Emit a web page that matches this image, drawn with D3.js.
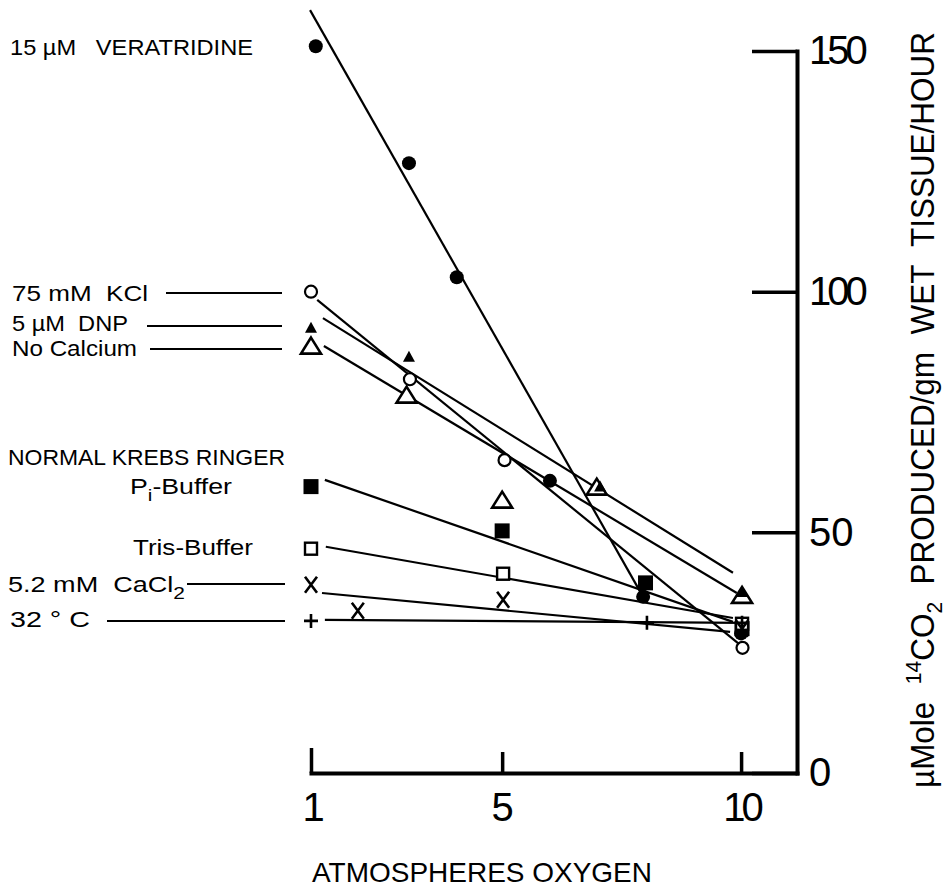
<!DOCTYPE html>
<html>
<head>
<meta charset="utf-8">
<script src="https://cdn.jsdelivr.net/npm/d3@7/dist/d3.min.js"></script>
<style>
  html, body { margin: 0; padding: 0; background: #fff; }
  svg { display: block; font-family: "Liberation Sans", Arial, Helvetica, sans-serif; }
</style>
</head>
<body>
<script>
// ---- data: oxygen pressure (atm) and 14CO2 production per series ----
const veratridineX = [1.1, 3.05, 4.05, 6.0, 7.95, 10];
const veratridineY = [151, 126.7, 103, 60.7, 36.6, 29];
const veratridineFit = [[0.98, 158.5], [7.95, 36.6]];

const kclX = [1, 3.07, 5.05, 10.03];
const kclY = [100, 81.8, 65, 26];
const kclFit = [[1.13, 98.3], [9.98, 26.6]];

const dnpX = [1, 3.05, 7.05, 10.02];
const dnpY = [92.5, 86.5, 59.5, 37.6];
const dnpFit = [[1.25, 94.5], [9.83, 41.6]];

const noCalciumX = [1, 3.0, 5.0, 6.98, 10.02];
const noCalciumY = [88.8, 78.6, 56.8, 59.5, 37];
const noCalciumFit = [[1.27, 88.7], [9.91, 37.4]];

const piBufferX = [1, 5.0, 8.0, 10.02];
const piBufferY = [59.5, 50.3, 39.5, 30];
const piBufferFit = [[1.29, 60.9], [9.83, 31.4]];

const trisBufferX = [1, 5.02, 10.02];
const trisBufferY = [46.6, 41.4, 31];
const trisBufferFit = [[1.31, 47.0], [9.83, 32.2]];

const cacl2X = [1, 1.98, 5.02, 10.02];
const cacl2Y = [39.1, 33.7, 36, 30];
const cacl2Fit = [[1.23, 37.4], [9.77, 29.3]];

const temp32X = [1, 8.03, 10.02];
const temp32Y = [31.6, 31.2, 31.2];
const temp32Fit = [[1.29, 31.8], [10.04, 31.2]];

const xTicks = [1, 5, 10];
const yTicks = [0, 50, 100, 150];

// ---- canvas & scales ----
const W = 950, H = 888;
const svg = d3.select("body").append("svg").attr("width", W).attr("height", H);

const x = d3.scaleLinear().domain([1, 11.17]).range([311, 797]);
const y = d3.scaleLinear().domain([0, 150]).range([773, 51]);

// ---- axes ----
const xAxis = svg.append("g")
  .attr("transform", `translate(0,${y(0)})`)
  .call(d3.axisBottom(x).tickValues(xTicks).tickSizeInner(-21).tickSizeOuter(0).tickPadding(20).tickFormat(d3.format("d")));
xAxis.select(".domain").attr("stroke-width", 4).attr("stroke-linecap", "square");
xAxis.selectAll(".tick line").attr("stroke-width", 3.5)
  .attr("y2", d => d === 1 ? -25 : -21);
xAxis.selectAll(".tick text")
  .attr("font-size", 40).attr("font-family", "Liberation Sans, Arial, sans-serif")
  .attr("fill", "#000")
  .attr("letter-spacing", d => String(d).includes("1") ? -4 : 0);

const yAxis = svg.append("g")
  .attr("transform", `translate(${x(11.17)},0)`)
  .call(d3.axisRight(y).tickValues(yTicks).tickSizeInner(-45).tickSizeOuter(0).tickPadding(12).tickFormat(d3.format("d")));
yAxis.select(".domain").attr("stroke-width", 4).attr("stroke-linecap", "square");
yAxis.selectAll(".tick line").attr("stroke-width", 3.5);
yAxis.selectAll(".tick text")
  .attr("font-size", 40).attr("font-family", "Liberation Sans, Arial, sans-serif")
  .attr("fill", "#000")
  .attr("letter-spacing", d => String(d).includes("1") ? -4 : 0);

// ---- axis titles ----
svg.append("text")
  .attr("x", 312).attr("y", 882)
  .attr("font-size", 28)
  .attr("textLength", 340).attr("lengthAdjust", "spacingAndGlyphs")
  .text("ATMOSPHERES OXYGEN");

const yTitle = svg.append("text")
  .attr("transform", "translate(934,788) rotate(-90)")
  .attr("font-size", 33)
  .attr("textLength", 756).attr("lengthAdjust", "spacingAndGlyphs");
yTitle.append("tspan").text("\u00b5Mole\u00a0\u00a0");
yTitle.append("tspan").attr("font-size", 22).attr("dy", -13).text("14");
yTitle.append("tspan").attr("dy", 13).text("CO");
yTitle.append("tspan").attr("font-size", 22).attr("dy", 8).text("2");
yTitle.append("tspan").attr("dy", -8).text("\u00a0\u00a0PRODUCED/gm\u00a0\u00a0WET\u00a0\u00a0TISSUE/HOUR");

// ---- series labels on the left ----
const labelFont = 22;
function label(parts, x0, base, len) {
  const t = svg.append("text").attr("x", x0).attr("y", base).attr("font-size", labelFont)
    .attr("textLength", len).attr("lengthAdjust", "spacingAndGlyphs");
  parts.forEach(p => {
    const s = t.append("tspan").text(p.t);
    if (p.sub) s.attr("font-size", 17).attr("dy", 7);
    if (p.back) s.attr("dy", -7);
  });
}
label([{t: "15 \u00b5M\u00a0\u00a0 VERATRIDINE"}], 10, 55, 243);
label([{t: "75 mM\u00a0 KCl"}], 12, 301, 136);
label([{t: "5 \u00b5M\u00a0 DNP"}], 12, 331, 116);
label([{t: "No Calcium"}], 12, 356, 125);
label([{t: "NORMAL KREBS RINGER"}], 8, 465, 277);
label([{t: "P"}, {t: "i", sub: true}, {t: "-Buffer", back: true}], 130, 494, 102);
label([{t: "Tris-Buffer"}], 133, 555, 120);
label([{t: "5.2 mM\u00a0\u00a0CaCl"}, {t: "2", sub: true}], 8, 592, 177);
label([{t: "32 \u00b0 C"}], 10, 627, 80);

// leader lines from labels toward the first data column
const leaders = [[166, 282, 293], [147, 282, 326], [150, 282, 349], [187, 285, 584], [107, 285, 621]];
svg.append("g").selectAll("line").data(leaders).join("line")
  .attr("x1", d => d[0]).attr("x2", d => d[1])
  .attr("y1", d => d[2]).attr("y2", d => d[2])
  .attr("stroke", "#000").attr("stroke-width", 2);

// ---- series table ----
const series = [
  {xs: veratridineX, ys: veratridineY, fit: veratridineFit, marker: "dot"},
  {xs: kclX, ys: kclY, fit: kclFit, marker: "ring"},
  {xs: noCalciumX, ys: noCalciumY, fit: noCalciumFit, marker: "openTri"},
  {xs: dnpX, ys: dnpY, fit: dnpFit, marker: "solidTri"},
  {xs: piBufferX, ys: piBufferY, fit: piBufferFit, marker: "solidSq"},
  {xs: trisBufferX, ys: trisBufferY, fit: trisBufferFit, marker: "openSq"},
  {xs: cacl2X, ys: cacl2Y, fit: cacl2Fit, marker: "cross"},
  {xs: temp32X, ys: temp32Y, fit: temp32Fit, marker: "plus"}
];

// fitted lines
const line = d3.line().x(d => x(d[0])).y(d => y(d[1]));
svg.append("g").selectAll("path").data(series).join("path")
  .attr("d", s => line(s.fit))
  .attr("fill", "none").attr("stroke", "#000").attr("stroke-width", 2.2);

// marker shapes, centred on the point
const shapes = {
  dot: g => g.append("circle").attr("r", 7).attr("fill", "#000"),
  ring: g => g.append("circle").attr("r", 6).attr("fill", "#fff").attr("stroke", "#000").attr("stroke-width", 2.2),
  openTri: g => g.append("path").attr("d", "M0,-8L10,8L-10,8Z").attr("fill", "#fff").attr("stroke", "#000").attr("stroke-width", 2.6).attr("stroke-linejoin", "miter"),
  solidTri: g => g.append("path").attr("d", "M0,-6L6,5L-6,5Z").attr("fill", "#000"),
  solidSq: g => g.append("rect").attr("x", -7.5).attr("y", -7.5).attr("width", 15).attr("height", 15).attr("fill", "#000"),
  openSq: g => g.append("rect").attr("x", -6).attr("y", -6).attr("width", 12).attr("height", 12).attr("fill", "#fff").attr("stroke", "#000").attr("stroke-width", 2.4),
  cross: g => g.append("path").attr("d", "M-6,-8L6,8M6,-8L-6,8").attr("stroke", "#000").attr("stroke-width", 2.6).attr("fill", "none"),
  plus: g => g.append("path").attr("d", "M-7,0H7M0,-7V7").attr("stroke", "#000").attr("stroke-width", 2.6).attr("fill", "none")
};

const marks = svg.append("g");
series.forEach(s => {
  s.xs.forEach((xv, i) => {
    const g = marks.append("g").attr("transform", `translate(${x(xv)},${y(s.ys[i])})`);
    shapes[s.marker](g);
  });
});
</script>
</body>
</html>
